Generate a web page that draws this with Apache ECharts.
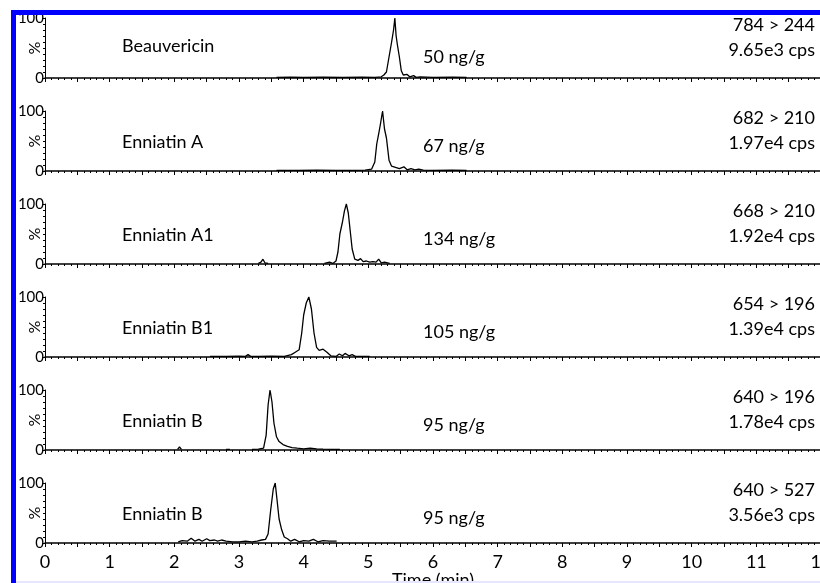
<!DOCTYPE html>
<html>
<head>
<meta charset="utf-8">
<title>Enniatins and beauvericin MRM chromatograms</title>
<script src="https://cdn.jsdelivr.net/npm/echarts@6/dist/echarts.min.js"></script>
<style>
  html, body { margin: 0; padding: 0; background: #fff; }
  #chart { width: 820px; height: 583px; }
</style>
</head>
<body>
<div id="chart"></div>
<script>
// Panel labels (top to bottom)
var compounds = ['Beauvericin', 'Enniatin A', 'Enniatin A1', 'Enniatin B1', 'Enniatin B', 'Enniatin B'];
var concentrations = ['50 ng/g', '67 ng/g', '134 ng/g', '105 ng/g', '95 ng/g', '95 ng/g'];
var transitions = ['784 > 244', '682 > 210', '668 > 210', '654 > 196', '640 > 196', '640 > 527'];
var intensities = ['9.65e3 cps', '1.97e4 cps', '1.92e4 cps', '1.39e4 cps', '1.78e4 cps', '3.56e3 cps'];

// Time axis (min)
var xTicks = [0, 1, 2, 3, 4, 5, 6, 7, 8, 9, 10, 11, 12];

// Traces: retention time (min) and relative intensity (%), null = gap
var beauvericinTime = [3.58, 3.8, 4.0, 4.3, 4.6, 4.9, 5.1, 5.2, 5.24, 5.28, 5.32, 5.36, 5.39, 5.41, 5.43, 5.45, 5.48, 5.51, 5.54, 5.57, 5.6, 5.64, 5.7, 5.74, 5.8, 6.0, 6.3, 6.52];
var beauvericinPct = [1, 1.5, 1, 1.5, 1, 1.5, 1, 2, 5, 10, 35, 60, 80, 100, 70, 55, 35, 12, 5, 3, 6, 2, 4, 1, 2, 1, 1.5, 1];

var enniatinATime = [3.58, 3.9, 4.2, 4.5, 4.8, 4.95, 5.05, 5.1, 5.13, 5.16, 5.19, 5.22, 5.25, 5.28, 5.32, 5.36, 5.42, 5.48, 5.55, 5.6, 5.66, 5.72, 5.78, 5.85, 6.0, 6.3, 6.52];
var enniatinAPct = [1, 1, 1.5, 1, 1, 1.5, 3, 15, 45, 62, 80, 100, 70, 55, 18, 8, 6, 4, 7, 2, 4, 2, 3, 1.5, 1, 1.5, 1];

var enniatinA1Time = [3.3, 3.34, 3.37, 3.4, 3.45, 3.9, 4.32, 4.4, 4.45, 4.5, 4.53, 4.56, 4.6, 4.63, 4.66, 4.69, 4.72, 4.75, 4.79, 4.84, 4.88, 4.92, 4.97, 5.02, 5.07, 5.12, 5.16, 5.2, 5.25, 5.33];
var enniatinA1Pct = [1, 3, 8, 2, 1, null, 1, 3, 1, 5, 20, 50, 70, 88, 100, 85, 55, 25, 8, 6, 9, 4, 5, 3, 4, 3, 8, 2, 3, 1];

var enniatinB1Time = [2.55, 2.8, 3.0, 3.1, 3.14, 3.18, 3.3, 3.5, 3.7, 3.81, 3.87, 3.93, 3.97, 4.0, 4.04, 4.08, 4.12, 4.16, 4.2, 4.24, 4.3, 4.36, 4.42, 4.5, 4.55, 4.6, 4.64, 4.7, 4.75, 4.8, 5.02];
var enniatinB1Pct = [1, 1, 1.5, 1, 4, 1, 1, 1.5, 1, 4, 8, 12, 40, 70, 90, 100, 80, 40, 16, 11, 13, 8, 2, 1, 5, 2, 6, 2, 4, 1, 1];

var enniatinBTime = [2.05, 2.08, 2.11, 2.5, 2.8, 2.83, 2.86, 3.0, 3.2, 3.3, 3.38, 3.42, 3.45, 3.48, 3.51, 3.54, 3.58, 3.62, 3.68, 3.75, 3.82, 3.9, 4.0, 4.1, 4.2, 4.3, 4.45, 4.56];
var enniatinBPct = [1, 5, 1, null, 1, 3, 1, null, 1, 1.5, 3, 25, 75, 100, 80, 45, 22, 14, 9, 6, 4, 3, 2, 3, 2, 1.5, 1, 1];

var enniatinB2Time = [2.06, 2.12, 2.2, 2.26, 2.32, 2.38, 2.43, 2.5, 2.55, 2.62, 2.67, 2.73, 2.8, 2.9, 3.0, 3.1, 3.2, 3.28, 3.35, 3.41, 3.45, 3.49, 3.53, 3.56, 3.59, 3.62, 3.66, 3.7, 3.75, 3.8, 3.86, 3.93, 4.0, 4.08, 4.15, 4.22, 4.3, 4.4, 4.51];
var enniatinB2Pct = [2, 4, 3, 8, 3, 6, 3, 7, 4, 5, 3, 5, 3, 2, 2, 3, 2, 3, 5, 6, 15, 55, 90, 100, 70, 40, 22, 10, 7, 3, 6, 2, 4, 3, 6, 2, 4, 3, 3];

var traceTimes = [beauvericinTime, enniatinATime, enniatinA1Time, enniatinB1Time, enniatinBTime, enniatinB2Time];
var tracePcts = [beauvericinPct, enniatinAPct, enniatinA1Pct, enniatinB1Pct, enniatinBPct, enniatinB2Pct];


(function () {
    var chart = echarts.init(document.getElementById('chart'));

    var FONT = 'Lato, "Open Sans", sans-serif';
    var panelTop = 18;
    var panelStep = 93;
    var panelHeight = 60;
    var plotLeft = 45;
    var plotWidth = 776;

    var grids = [], xAxes = [], yAxes = [], series = [], graphics = [];

    // Blue frame on the left and top
    graphics.push({ type: 'rect', shape: { x: 11, y: 10, width: 5, height: 573 }, style: { fill: '#0000ff' }, z: 100 });
    graphics.push({ type: 'rect', shape: { x: 11, y: 10, width: 809, height: 5 }, style: { fill: '#0000ff' }, z: 100 });
    graphics.push({ type: 'rect', shape: { x: 16, y: 581, width: 804, height: 2 }, style: { fill: '#e6e6ff' }, z: 100 });

    for (var i = 0; i < compounds.length; i++) {
        var panelY = panelTop + i * panelStep;
        var last = i === compounds.length - 1;

        grids.push({
            left: plotLeft, top: panelY, width: plotWidth, height: panelHeight,
            containLabel: false, outerBoundsMode: 'none'
        });

        xAxes.push({
            type: 'value',
            gridIndex: i,
            min: xTicks[0],
            max: xTicks[xTicks.length - 1],
            interval: 0.5,
            axisLine: { lineStyle: { color: '#000', width: 1.5 } },
            axisTick: { length: 4, lineStyle: { color: '#000' } },
            minorTick: { show: true, splitNumber: 5, length: 2, lineStyle: { color: '#000' } },
            splitLine: { show: false },
            axisLabel: {
                show: last,
                margin: 10,
                fontFamily: FONT,
                fontSize: 18,
                color: '#000',
                showMaxLabel: true,
                hideOverlap: false,
                formatter: function (v) {
                    return xTicks.indexOf(v) >= 0 ? String(v) : '';
                }
            },
            name: last ? 'Time (min)' : '',
            nameLocation: 'middle',
            nameGap: 28,
            nameMoveOverlap: false,
            nameTextStyle: { fontFamily: FONT, fontSize: 18, color: '#000' }
        });

        yAxes.push({
            type: 'value',
            gridIndex: i,
            min: 0,
            max: 100,
            interval: 100,
            axisLine: { show: true, lineStyle: { color: '#000', width: 1 } },
            axisTick: { show: true, length: 3, lineStyle: { color: '#000' } },
            minorTick: { show: true, splitNumber: 10, length: 2, lineStyle: { color: '#000' } },
            splitLine: { show: false },
            axisLabel: { margin: 1, fontFamily: FONT, fontSize: 15, color: '#000' },
            name: '%',
            nameLocation: 'middle',
            nameRotate: 90,
            nameGap: 2,
            nameMoveOverlap: false,
            nameTextStyle: { fontFamily: FONT, fontSize: 16, color: '#000' }
        });

        var pts = [];
        for (var k = 0; k < traceTimes[i].length; k++) {
            pts.push([traceTimes[i][k], tracePcts[i][k]]);
        }
        series.push({
            type: 'line',
            xAxisIndex: i,
            yAxisIndex: i,
            data: pts,
            showSymbol: false,
            connectNulls: false,
            silent: true,
            lineStyle: { color: '#000', width: 1.3 },
            animation: false
        });

        // Panel texts
        graphics.push({ type: 'text', x: 122, y: panelY + (i === 0 ? 19 : 22), style: { text: compounds[i], fontFamily: FONT, fontSize: 18, fill: '#000' } });
        graphics.push({ type: 'text', x: 423, y: panelY + (i === 0 ? 30 : 26), style: { text: concentrations[i], fontFamily: FONT, fontSize: 18, fill: '#000' } });
        graphics.push({ type: 'text', x: 815, y: panelY - 2, style: { text: transitions[i], align: 'right', fontFamily: FONT, fontSize: 18, fill: '#000' } });
        graphics.push({ type: 'text', x: 815, y: panelY + 23, style: { text: intensities[i], align: 'right', fontFamily: FONT, fontSize: 18, fill: '#000' } });
    }

    chart.setOption({
        animation: false,
        grid: grids,
        xAxis: xAxes,
        yAxis: yAxes,
        series: series,
        graphic: graphics
    });
})();
</script>
</body>
</html>
